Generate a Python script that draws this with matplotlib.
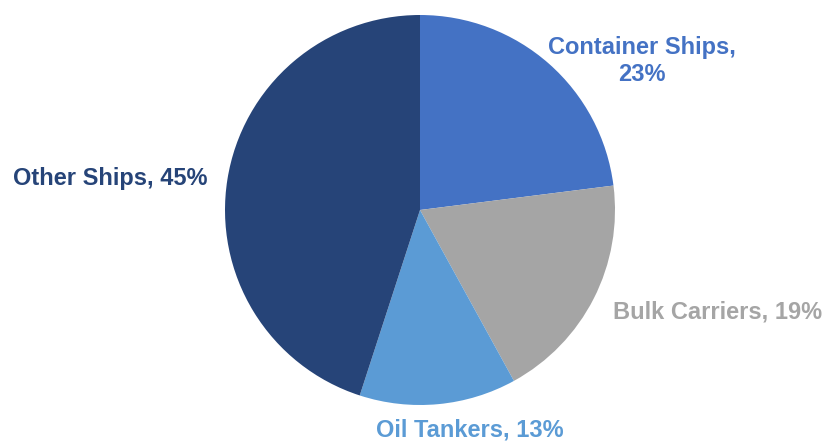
import matplotlib.pyplot as plt

# ship type shares
categories = ["Container Ships", "Bulk Carriers", "Oil Tankers", "Other Ships"]
shares = [23, 19, 13, 45]
colors = ["#4472C4", "#A5A5A5", "#5B9BD5", "#264478"]

plt.rcParams['font.family'] = ['Liberation Sans', 'DejaVu Sans']

fig = plt.figure(figsize=(8.26, 4.42), dpi=100)
ax = fig.add_axes([0, 0, 1, 1])

ax.pie(shares, colors=colors, startangle=90, counterclock=False,
       center=(420, 232), radius=195,
       wedgeprops=dict(linewidth=0))

# pie() resets the limits, so set the pixel frame afterwards
ax.set_xlim(0, 826)
ax.set_ylim(0, 442)
ax.set_aspect('equal')
ax.axis('off')

# label placement (pixel coords, y measured from top)
label_pos = {
    "Container Ships": (642, 61),
    "Bulk Carriers": (718, 312),
    "Oil Tankers": (470, 430),
    "Other Ships": (110, 178),
}
for name, val, col in zip(categories, shares, colors):
    x, y = label_pos[name]
    if name == "Container Ships":
        txt = f"{name},\n{val}%"
    else:
        txt = f"{name}, {val}%"
    ax.text(x, 442 - y, txt, ha='center', va='center', color=col,
            fontsize=17, fontweight='bold', linespacing=1.2)

fig.savefig("out.png", dpi=100)
